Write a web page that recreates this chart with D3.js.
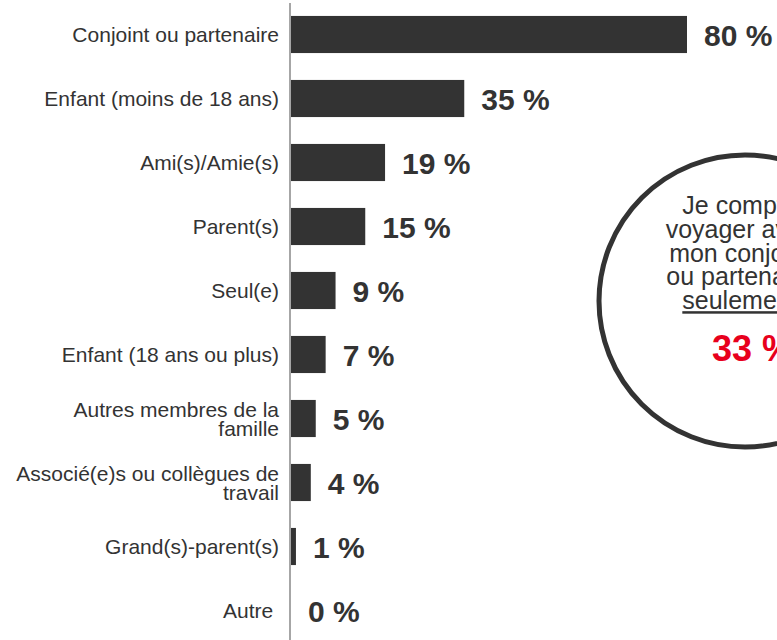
<!DOCTYPE html>
<html>
<head>
    <meta charset="utf-8">
    <style>
        body {
            margin: 0;
            background: #fff;
        }

        svg {
            display: block;
            font-family: 'Liberation Sans', Arial, sans-serif;
        }
    </style>
</head>
<body>
    <svg width="777" height="640"></svg>

<script src="https://d3js.org/d3.v7.min.js"></script>
<script>
    // categories (each one a list of text lines) and their shares, in %
    let categories = [
        ["Conjoint ou partenaire"],
        ["Enfant (moins de 18 ans)"],
        ["Ami(s)/Amie(s)"],
        ["Parent(s)"],
        ["Seul(e)"],
        ["Enfant (18 ans ou plus)"],
        ["Autres membres de la", "famille"],
        ["Associé(e)s ou collègues de", "travail"],
        ["Grand(s)-parent(s)"],
        ["Autre\u00a0"]
    ]
    let values = [80, 35, 19, 15, 9, 7, 5, 4, 1, 0]

    // the circled callout
    let calloutLines = ["Je compte", "voyager avec", "mon conjoint", "ou partenaire", "seulement"]
    let calloutValue = 33

    let svg = d3.select("svg")

    let axisX = 290

    let x = d3.scaleLinear()
        .domain([0, 80])
        .range([axisX + 1, axisX + 397])

    let y = d3.scaleBand()
        .domain(d3.range(categories.length))
        .range([2.5, 642.5])
        .paddingInner(0.42)
        .paddingOuter(0.21)

    let pct = d => d + " %"

    // bars
    svg.selectAll(".bar")
        .data(values)
        .join("rect")
        .attr("class", "bar")
        .attr("x", x(0))
        .attr("y", (d, i) => y(i))
        .attr("width", d => x(d) - x(0))
        .attr("height", y.bandwidth())
        .style("fill", "#333")

    // vertical axis line
    svg.append("line")
        .attr("x1", axisX)
        .attr("x2", axisX)
        .attr("y1", 3)
        .attr("y2", 640)
        .style("stroke", "#a6a6a6")
        .style("stroke-width", 2)

    // category labels
    let labels = svg.selectAll(".label")
        .data(categories)
        .join("text")
        .attr("class", "label")
        .attr("text-anchor", "end")
        .style("font-size", "21px")
        .style("fill", "#333")

    labels.selectAll("tspan")
        .data((d, i) => d.map((line, j) => ({ line, j, n: d.length, i })))
        .join("tspan")
        .attr("x", 279)
        .attr("y", d => y(d.i) + y.bandwidth() / 2 + 7.5 + (d.j - (d.n - 1) / 2) * 19)
        .text(d => d.line)

    // value labels
    svg.selectAll(".value")
        .data(values)
        .join("text")
        .attr("class", "value")
        .attr("x", d => x(d) + 17)
        .attr("y", (d, i) => y(i) + y.bandwidth() / 2 + 11)
        .style("font-size", "30px")
        .style("font-weight", "bold")
        .style("fill", "#333")
        .text(pct)

    // callout circle
    let cx = 745
    let cy = 301

    svg.append("circle")
        .attr("cx", cx)
        .attr("cy", cy)
        .attr("r", 146)
        .style("fill", "none")
        .style("stroke", "#333")
        .style("stroke-width", 5)

    let callout = svg.append("text")
        .attr("text-anchor", "middle")
        .style("font-size", "25px")
        .style("fill", "#333")

    callout.selectAll("tspan")
        .data(calloutLines)
        .join("tspan")
        .attr("x", 740)
        .attr("y", (d, i) => 214 + i * 23.8)
        .style("text-decoration", (d, i) => i === calloutLines.length - 1 ? "underline" : null)
        .text(d => d)

    svg.append("text")
        .attr("x", 712)
        .attr("y", 361)
        .style("font-size", "36px")
        .style("font-weight", "bold")
        .style("fill", "#e8001c")
        .text(pct(calloutValue))
</script>
</body>
</html>
